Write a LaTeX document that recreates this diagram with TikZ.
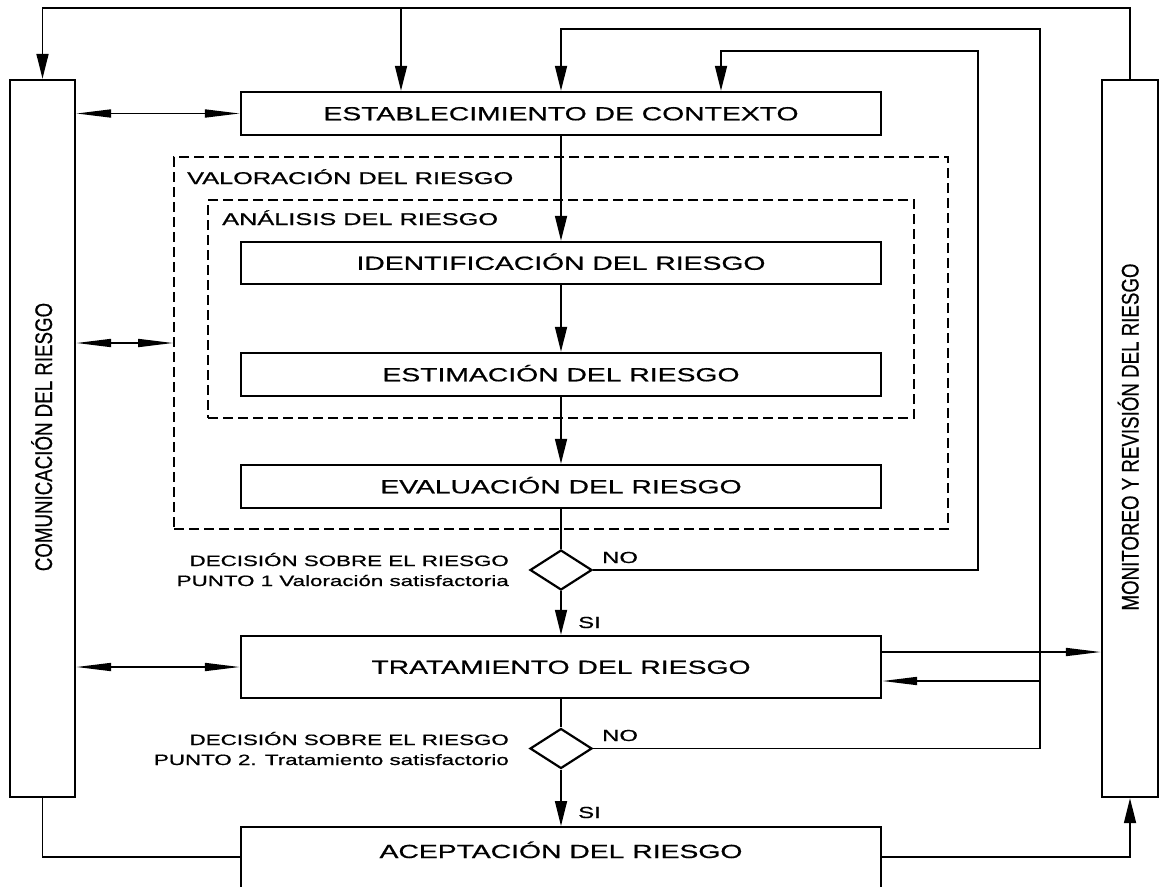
\documentclass[tikz,border=0pt]{standalone}
\usepackage{fontspec}
\usepackage{graphicx}
\setmainfont{Liberation Sans}[RawFeature={embolden=0.6}]
\usetikzlibrary{arrows.meta,shapes.geometric,calc}
\newcommand{\hx}[1]{\scalebox{1.49}[1]{#1}}
\newcommand{\hy}[1]{\scalebox{1.49}[1]{#1}}
\newcommand{\vx}[1]{\scalebox{0.78}[1]{#1}}
\begin{document}
\begin{tikzpicture}[x=1pt,y=1pt,
  box/.style={draw, line width=2.4pt, fill=white, inner sep=0pt, minimum width=640pt},
  sidebox/.style={draw, line width=2.4pt, fill=white, inner sep=0pt, minimum height=717pt},
  conn/.style={line width=1.7pt},
  dbox/.style={draw, line width=1.7pt, dash pattern=on 10pt off 5pt, inner sep=0pt},
  varr/.style={-{Triangle[length=25pt,width=12pt]}},
  harr/.style={-{Triangle[length=35pt,width=8pt]}},
  dbl/.style={{Triangle[length=35pt,width=8pt]}-{Triangle[length=35pt,width=8pt]}},
  dec/.style={diamond, draw, line width=2.2pt, fill=white, inner sep=0pt, aspect=1.55, minimum width=62pt, minimum height=40pt},
  ttl/.style={font=\fontsize{19}{21}\selectfont, text height=13.6pt, text depth=0pt},
  lbl/.style={font=\fontsize{17}{19}\selectfont, anchor=base west, inner sep=0pt},
  dtxt/.style={font=\fontsize{15}{17}\selectfont, anchor=base east, inner sep=0pt},
  yn/.style={font=\fontsize{16}{18}\selectfont, anchor=base west, inner sep=0pt},
  vt/.style={font=\fontsize{24}{26}\selectfont, rotate=90, text height=17pt, text depth=0pt, inner sep=0pt}
]
\useasboundingbox (0,0) rectangle (1161,-886);
\fill[white] (0,0) rectangle (1161,-886);
\clip (0,0) rectangle (1161,-886);

% dashed groups
\node[dbox, minimum width=774pt, minimum height=372pt] (valor) at (561,-343) {};
\node[dbox, minimum width=706pt, minimum height=218pt] (anal) at (561,-309) {};
\node[lbl] (valort) at (187,-184) {\hy{VALORACIÓN DEL RIESGO}};
\node[lbl] (analt) at (222,-225) {\hy{ANÁLISIS DEL RIESGO}};

% main boxes
\node[box, ttl, minimum height=43pt] (estab) at (561,-113.5) {\hx{ESTABLECIMIENTO DE CONTEXTO}};
\node[box, ttl, minimum height=42pt] (ident) at (561,-263) {\hx{IDENTIFICACIÓN DEL RIESGO}};
\node[box, ttl, minimum height=43pt] (estim) at (561,-374.5) {\hx{ESTIMACIÓN DEL RIESGO}};
\node[box, ttl, minimum height=43pt] (evalu) at (561,-486.5) {\hx{EVALUACIÓN DEL RIESGO}};
\node[box, ttl, minimum height=62pt] (trat) at (561,-667) {\hx{TRATAMIENTO DEL RIESGO}};
\node[box, minimum height=90pt, anchor=north] (acept) at (561,-826) {};
\node[font=\fontsize{19}{21}\selectfont, anchor=base, inner sep=0pt] (aceptt) at (561,-858) {\hx{ACEPTACIÓN DEL RIESGO}};

% side boxes
\node[sidebox, minimum width=65pt] (comm) at (42.5,-438.5) {};
\node[vt] (commt) at (43.5,-437) {\vx{COMUNICACIÓN DEL RIESGO}};
\node[sidebox, minimum width=56pt] (moni) at (1130,-438.5) {};
\node[vt] (monit) at (1130,-437) {\vx{MONITOREO Y REVISIÓN DEL RIESGO}};

% decisions
\node[dec] (d1) at (561,-570) {};
\node[dec] (d2) at (561,-748.5) {};
\node[dtxt] (d1a) at (509,-566) {\hy{DECISIÓN SOBRE EL RIESGO}};
\node[dtxt] (d1b) at (509,-586) {\hy{PUNTO 1 Valoración satisfactoria}};
\node[dtxt] (d2a) at (509,-745) {\hy{DECISIÓN SOBRE EL RIESGO}};
\node[dtxt] (d2b) at (509,-765) {\hy{PUNTO 2. Tratamiento satisfactorio}};
\node[yn] (no1) at (602,-563) {\hy{NO}};
\node[yn] (no2) at (602,-741) {\hy{NO}};
\node[yn] (si1) at (578,-628) {\hy{SI}};
\node[yn] (si2) at (578,-818) {\hy{SI}};

% coordinates
\coordinate (tl) at (401,-8);
\coordinate (l2) at (1040,-29);
\coordinate (l1) at (978,-51);
\coordinate (l1b) at (721,-51);
\coordinate (b2) at (1040,-681);
\coordinate (t1) at ([yshift=15pt]trat.east);
\coordinate (al) at (241,-857);
\coordinate (ar) at (881,-857);

% main flow
\draw[conn,varr] (estab.south) -- (ident.north);
\draw[conn,varr] (ident.south) -- (estim.north);
\draw[conn,varr] (estim.south) -- (evalu.north);
\draw[conn] (evalu.south) -- (d1.north);
\draw[conn,varr] (d1.south) -- (trat.north);
\draw[conn] (trat.south) -- (d2.north);
\draw[conn,varr] (d2.south) -- (acept.north);

% loops
\draw[conn,varr] (moni.north) -- (moni.north |- tl) -- (comm.north |- tl) -- (comm.north);
\draw[conn,varr] (tl) -- (tl |- estab.north);
\draw[conn,varr] (d2.east) -- (d2.east -| l2) -- (l2) -- (estab.north |- l2) -- (estab.north);
\draw[conn,harr] (b2) -- (b2 -| trat.east);
\draw[conn,varr] (d1.east) -- (d1.east -| l1) -- (l1) -- (l1b) -- (l1b |- estab.north);
\draw[conn,harr] (t1) -- (t1 -| moni.west);

% communication links
\draw[conn,dbl] (comm.east |- estab.west) -- (estab.west);
\draw[conn,dbl] (comm.east |- valor.west) -- (valor.west);
\draw[conn,dbl] (comm.east |- trat.west) -- (trat.west);

% bottom links
\draw[conn] (comm.south) -- (comm.south |- al) -- (al);
\draw[conn,varr] (ar) -- (ar -| moni.south) -- (moni.south);
\end{tikzpicture}
\end{document}
